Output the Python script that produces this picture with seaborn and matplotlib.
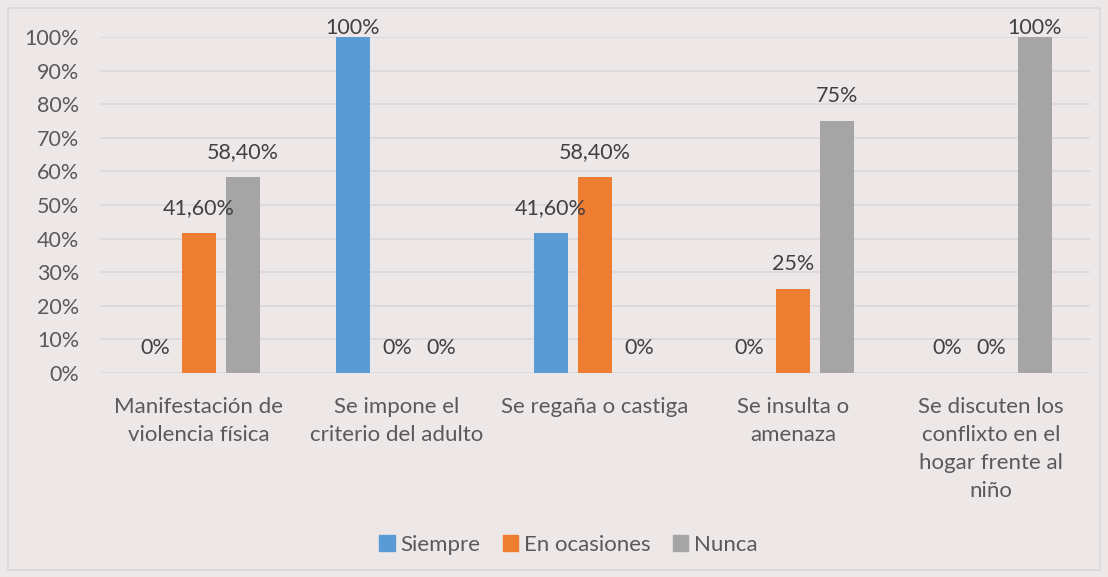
import numpy as np
import pandas as pd
import matplotlib
matplotlib.use('Agg')
import matplotlib.pyplot as plt
import matplotlib.patches as mpatches
import seaborn as sns

# ============================================================
# Data
# ============================================================
CATEGORIES = [
    'Manifestación de\nviolencia física',
    'Se impone el\ncriterio del adulto',
    'Se regaña o castiga',
    'Se insulta o\namenaza',
    'Se discuten los\nconflixto en el\nhogar frente al\nniño',
]
SERIES = ['Siempre', 'En ocasiones', 'Nunca']
SIEMPRE = [0, 100, 41.6, 0, 0]
EN_OCASIONES = [41.6, 0, 58.4, 25, 0]
NUNCA = [58.4, 0, 0, 75, 100]
LABELS = [
    ['0%', '100%', '41,60%', '0%', '0%'],
    ['41,60%', '0%', '58,40%', '25%', '0%'],
    ['58,40%', '0%', '0%', '75%', '100%'],
]
COLORS = ['#5B9BD5', '#ED7D31', '#A5A5A5']
BG = '#EDE8E7'

df = pd.DataFrame({
    'categoria': CATEGORIES * 3,
    'serie': np.repeat(SERIES, len(CATEGORIES)),
    'valor': SIEMPRE + EN_OCASIONES + NUNCA,
})

sns.set_theme(style='white')
plt.rcParams['font.family'] = ['Lato', 'DejaVu Sans']

fig = plt.figure(figsize=(11.08, 5.77), dpi=100, facecolor=BG)
ax = fig.add_axes([100 / 1108, 1 - 373 / 577, 990 / 1108, 336 / 577])
ax.set_facecolor(BG)

sns.barplot(data=df, x='categoria', y='valor', hue='serie', hue_order=SERIES,
            palette=COLORS, width=0.667, gap=0.225, ax=ax, legend=False,
            saturation=1, linewidth=0, zorder=3)

ax.set_ylim(0, 100)
ax.set_xlim(-0.5, len(CATEGORIES) - 0.5)
ax.set_yticks(np.arange(0, 101, 10))
ax.set_yticklabels([f'{t}%' for t in range(0, 101, 10)])
ax.yaxis.grid(True, color='#D9D9D9', linewidth=1.2, zorder=0)
ax.set_axisbelow(True)
for s in ax.spines.values():
    s.set_visible(False)
ax.set_xlabel('')
ax.set_ylabel('')
ax.tick_params(axis='y', length=0, pad=15, labelsize=15.5, labelcolor='#595959')
ax.tick_params(axis='x', length=0, pad=17, labelsize=16, labelcolor='#595959')
for lbl in ax.get_xticklabels():
    lbl.set_linespacing(1.5)
    lbl.set_verticalalignment('top')

# data labels
for j, cont in enumerate(ax.containers):
    vals = [SIEMPRE, EN_OCASIONES, NUNCA][j]
    for i, bar in enumerate(cont):
        xc = bar.get_x() + bar.get_width() / 2
        y = min(vals[i] + 7.4, 102.7)
        ax.text(xc, y, LABELS[j][i], ha='center', va='center', fontsize=15.5,
                color='#404040', clip_on=False, zorder=5)

handles = [mpatches.Patch(color=c, label=s) for c, s in zip(COLORS, SERIES)]
fig.legend(handles=handles, loc='center', bbox_to_anchor=(0.513, 1 - 545 / 577),
           ncol=3, frameon=False, fontsize=16, handlelength=0.7, handleheight=0.7,
           handletextpad=0.25, columnspacing=1.0, labelcolor='#595959')

fig.patches.append(mpatches.Rectangle((8 / 1108, 7 / 577), 1092 / 1108, 562 / 577,
                                      transform=fig.transFigure, fill=False,
                                      edgecolor='#D9D9D9', linewidth=1.2))

fig.savefig('out.png', dpi=100, facecolor=BG)
